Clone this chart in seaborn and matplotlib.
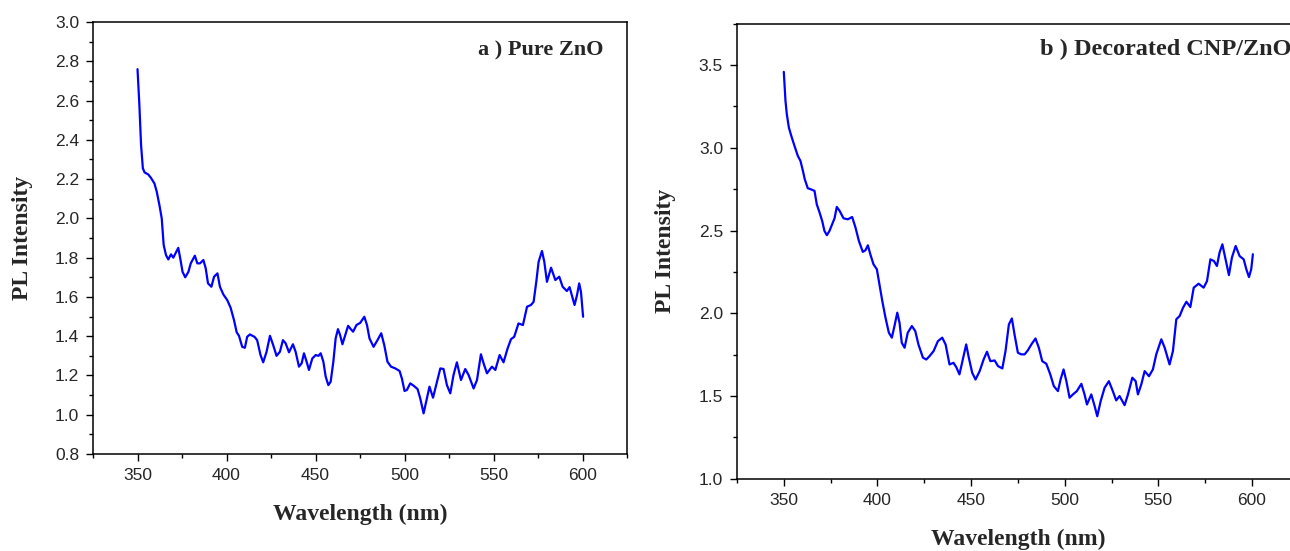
import numpy as np
import pandas as pd
import matplotlib
matplotlib.use('Agg')
import matplotlib.pyplot as plt
import seaborn as sns
from matplotlib.ticker import MultipleLocator, FormatStrFormatter

# a) pure ZnO
wl_a = [350, 351, 352, 353, 354, 356, 357.5, 359.5, 360.8, 362.3, 363.6, 364.7, 366, 367.3,
        368.8, 370.1, 371.6, 372.9, 374, 375.3, 376.8, 378.6, 379.9, 382.2, 383.6, 385.1, 387,
        388.3, 389.6, 391.5, 393, 394.9, 396.3, 398.2, 400.4, 402.3, 404.2, 405.7, 407, 408.8,
        410.3, 411.6, 413.1, 415.7, 417.2, 419.1, 420.6, 422.5, 424.4, 426.2, 428.1, 430, 431.7,
        433.2, 435.1, 437.3, 438.8, 440.7, 442.2, 443.5, 445, 446.3, 448.2, 450.1, 451.6, 452.9,
        454.4, 455.7, 457.2, 458.5, 460, 461.3, 462.6, 463.8, 465.1, 466.4, 468.3, 469.8, 471.1,
        473, 475.1, 477.4, 478.9, 480.3, 482.6, 484.8, 486.9, 488.6, 490.4, 492.4, 494.8, 497.2,
        498.5, 500, 501.3, 503.2, 505.1, 507.3, 508.8, 510.7, 512.6, 514, 516, 518.2, 520.1,
        521.9, 523.8, 525.7, 527.5, 529.4, 531.7, 534.1, 536, 538.8, 540.7, 542.9, 544.4, 546.3,
        549.1, 551, 553.4, 555.6, 557.9, 559.8, 561.6, 564, 566.5, 568.8, 571, 572.5, 574, 575.3,
        577.2, 578.5, 580, 582.3, 584.7, 586.9, 588.8, 591.2, 592.7, 595.5, 596.9, 598.1, 599.1,
        600.3]
pl_a = [2.76, 2.586, 2.373, 2.255, 2.234, 2.224, 2.207, 2.178, 2.136, 2.068, 2.0, 1.864, 1.813, 1.791,
        1.817, 1.80, 1.827, 1.85, 1.796, 1.728, 1.70, 1.728, 1.771, 1.81, 1.771, 1.771, 1.788,
        1.746, 1.669, 1.652, 1.703, 1.72, 1.652, 1.613, 1.584, 1.545, 1.482, 1.42, 1.402, 1.346,
        1.341, 1.397, 1.409, 1.397, 1.38, 1.304, 1.267, 1.321, 1.402, 1.355, 1.30, 1.321, 1.38,
        1.364, 1.318, 1.359, 1.321, 1.245, 1.262, 1.313, 1.27, 1.228, 1.287, 1.304, 1.30, 1.313,
        1.27, 1.194, 1.151, 1.168, 1.27, 1.389, 1.436, 1.406, 1.359, 1.397, 1.453, 1.436, 1.423,
        1.457, 1.468, 1.499, 1.457, 1.389, 1.346, 1.38, 1.415, 1.355, 1.27, 1.245, 1.236, 1.223,
        1.185, 1.121, 1.126, 1.16, 1.148, 1.131, 1.084, 1.007, 1.084, 1.143, 1.087, 1.168, 1.236,
        1.233, 1.151, 1.109, 1.202, 1.267, 1.177, 1.233, 1.202, 1.134, 1.177, 1.308, 1.262, 1.211,
        1.245, 1.228, 1.304, 1.267, 1.338, 1.385, 1.397, 1.465, 1.457, 1.55, 1.559, 1.575, 1.677,
        1.779, 1.834, 1.779, 1.677, 1.749, 1.686, 1.703, 1.652, 1.63, 1.65, 1.559, 1.61, 1.669,
        1.626, 1.499]

# b) decorated CNP/ZnO
wl_b = [350, 350.9, 351.6, 352.7, 354, 355.7, 357.5, 358.9, 360.2, 361.2, 362.8, 364.3, 366.4,
        367.6, 369.1, 370.5, 371.7, 373, 374.4, 377.1, 378.3, 379.8, 381.9, 384.2, 386.5, 388.3,
        390.1, 392.2, 393.6, 394.9, 396.2, 397.9, 399.7, 401.1, 402.6, 404.3, 406.1, 407.7, 409.1,
        410.6, 411.8, 413, 414.5, 416.2, 418.4, 420.2, 421.9, 424.3, 426.1, 427.8, 430, 432.3,
        434.6, 436.4, 438.5, 440.6, 442.1, 443.8, 445.6, 447.4, 448.8, 450.6, 452.4, 454.6, 456.7,
        458.5, 460.3, 462.6, 464.4, 466.7, 468.4, 470.2, 471.8, 473.2, 475, 476.8, 478.6, 480.3,
        482.2, 484.4, 486.2, 488, 490.2, 492.3, 494.2, 496.4, 497.8, 499.4, 500.9, 502.6, 504.4,
        506.5, 508.9, 510.6, 511.9, 514.2, 516, 517.4, 519.2, 521.3, 523.6, 525.7, 527.5, 529.3,
        532, 533.8, 536.1, 537.9, 539.1, 540.9, 542.7, 545, 547.1, 548.9, 551.6, 553.4, 556,
        557.8, 559.6, 561.4, 563.2, 565, 567.1, 568.9, 571.5, 574.2, 576, 577.8, 579.7, 581.3,
        582.7, 584.2, 585.9, 587.7, 589.3, 591.3, 593.4, 595.6, 597, 598.4, 599.6, 600.5]
pl_b = [3.459, 3.284, 3.204, 3.123, 3.072, 3.012, 2.951, 2.921, 2.861, 2.81, 2.756, 2.75, 2.74,
        2.659, 2.609, 2.558, 2.498, 2.472, 2.498, 2.574, 2.643, 2.619, 2.574, 2.568, 2.582, 2.518,
        2.437, 2.371, 2.381, 2.411, 2.357, 2.296, 2.266, 2.175, 2.074, 1.974, 1.883, 1.853, 1.923,
        2.004, 1.943, 1.822, 1.792, 1.883, 1.923, 1.893, 1.812, 1.732, 1.721, 1.741, 1.772, 1.832,
        1.853, 1.812, 1.691, 1.701, 1.675, 1.631, 1.721, 1.812, 1.732, 1.641, 1.60, 1.651, 1.721,
        1.768, 1.711, 1.715, 1.681, 1.667, 1.772, 1.933, 1.969, 1.873, 1.762, 1.752, 1.752, 1.776,
        1.812, 1.848, 1.792, 1.711, 1.695, 1.631, 1.56, 1.53, 1.60, 1.661, 1.59, 1.49, 1.51,
        1.53, 1.574, 1.51, 1.449, 1.51, 1.439, 1.378, 1.469, 1.55, 1.59, 1.53, 1.474, 1.50,
        1.445, 1.51, 1.611, 1.59, 1.51, 1.57, 1.651, 1.62, 1.661, 1.752, 1.843, 1.792, 1.691,
        1.772, 1.964, 1.984, 2.034, 2.07, 2.038, 2.155, 2.179, 2.155, 2.195, 2.326, 2.316, 2.286,
        2.367, 2.417, 2.326, 2.231, 2.337, 2.407, 2.346, 2.326, 2.266, 2.219, 2.266, 2.357]

df_a = pd.DataFrame({'wl': wl_a, 'pl': pl_a})
df_b = pd.DataFrame({'wl': wl_b, 'pl': pl_b})

sns.set_style('white')
plt.rcParams['font.family'] = ['Liberation Sans', 'DejaVu Sans']

fig = plt.figure(figsize=(12.9, 5.51), dpi=100)
ax1 = fig.add_axes([0.0721, 0.176, 0.414, 0.784])
ax2 = fig.add_axes([0.5713, 0.131, 0.4355, 0.826])

serif = ['Liberation Serif', 'DejaVu Serif']
label_font = dict(family=serif, weight='bold', size=17)

def style_axis(ax, ylim, ymaj, ymin):
    ax.set_xlim(325, 625)
    ax.set_ylim(*ylim)
    ax.xaxis.set_major_locator(MultipleLocator(50))
    ax.xaxis.set_minor_locator(MultipleLocator(25))
    ax.yaxis.set_major_locator(MultipleLocator(ymaj))
    ax.yaxis.set_minor_locator(MultipleLocator(ymin))
    ax.yaxis.set_major_formatter(FormatStrFormatter('%.1f'))
    ax.tick_params(which='both', direction='out', bottom=True, left=True, top=False, right=False,
                   labelsize=12.5, color='black', width=1)
    ax.tick_params(which='major', length=5, pad=5)
    ax.tick_params(which='minor', length=3)
    for s in ax.spines.values():
        s.set_color('black')
        s.set_linewidth(1.1)
    ax.set_xlabel('Wavelength (nm)', fontdict=label_font, labelpad=15)
    ax.set_ylabel('PL Intensity', fontdict=label_font, labelpad=16)

sns.lineplot(data=df_a, x='wl', y='pl', ax=ax1, color='#0000ff', linewidth=1.6, sort=False)
sns.lineplot(data=df_b, x='wl', y='pl', ax=ax2, color='#0000ff', linewidth=1.6, sort=False)

style_axis(ax1, (0.8, 3.0), 0.2, 0.1)
style_axis(ax2, (1.0, 3.75), 0.5, 0.25)

ax1.text(0.955, 0.935, 'a ) Pure ZnO', transform=ax1.transAxes, ha='right', va='center',
         family=serif, weight='bold', size=16)
ax2.text(0.539, 0.943, 'b ) Decorated CNP/ZnO', transform=ax2.transAxes, ha='left', va='center',
         family=serif, weight='bold', size=17.5)

fig.savefig('out.png', dpi=100)
